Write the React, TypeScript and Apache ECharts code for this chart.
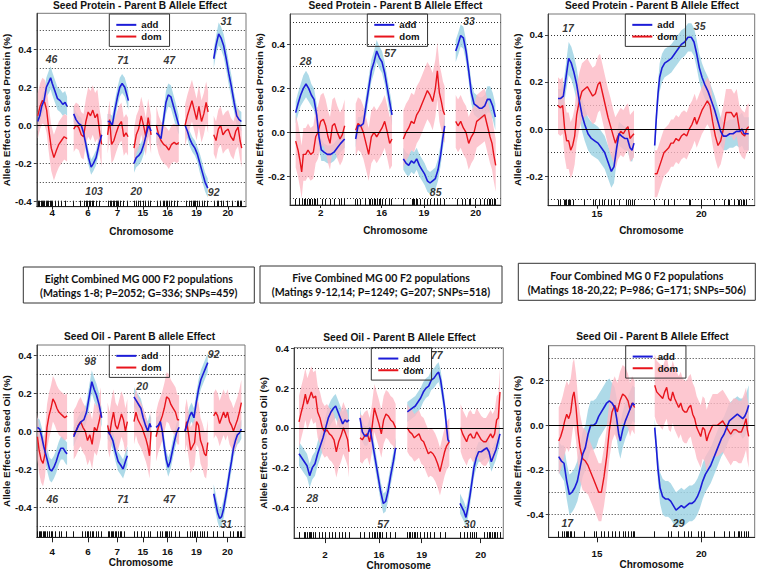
import { useEffect, useRef } from 'react';
import * as echarts from 'echarts';

type Pt = [number, number, number]; // [map position, effect, CI half-width]
type Note = [number, number, string];

// ---------------- DATA ----------------
// Panel 1: Seed Protein, MG 000
const P1_CHR = ['4', '6', '7', '15', '16', '19', '20'];
const P1_CHR_POS = [150, 258, 348, 425, 500, 588, 683];
const P1_RUG = [108, 112, 116, 120, 124, 127, 131, 134, 138, 143, 146, 150, 158, 167, 176, 188, 215, 235, 247, 252, 257, 262, 266, 270, 275, 282, 292, 320, 326, 330, 334, 339, 343, 347, 351, 356, 366, 377, 398, 404, 410, 416, 425, 432, 440, 447, 468, 478, 486, 491, 495, 500, 506, 512, 520, 530, 556, 565, 572, 577, 581, 585, 589, 596, 604, 612, 620, 642, 650, 655, 662, 668, 680, 695, 710, 715, 720, 725];
const P1_ADD: Pt[][] = [
  [[106, 0.02, 0.05], [112, 0.05, 0.05], [118, 0.1, 0.05], [125, 0.13, 0.05], [132, 0.2, 0.05], [140, 0.23, 0.06], [145, 0.25, 0.06], [150, 0.22, 0.06], [158, 0.18, 0.06], [166, 0.14, 0.06], [174, 0.13, 0.06], [182, 0.11, 0.06], [189, 0.12, 0.06], [195, 0.1, 0.05]],
  [[215, 0.06, 0.04], [222, 0.03, 0.04], [230, 0.01, 0.04], [238, 0.0, 0.04], [245, -0.04, 0.04], [252, -0.1, 0.04], [260, -0.17, 0.04], [268, -0.22, 0.04], [275, -0.2, 0.04], [283, -0.17, 0.04], [292, -0.1, 0.04], [300, -0.05, 0.04]],
  [[318, 0.02, 0.04], [325, 0.02, 0.04], [332, 0.0, 0.05], [340, 0.08, 0.05], [348, 0.15, 0.05], [355, 0.2, 0.05], [362, 0.22, 0.05], [370, 0.2, 0.05], [378, 0.15, 0.05], [381, 0.13, 0.05]],
  [[398, -0.2, 0.05], [405, -0.17, 0.05], [412, -0.16, 0.05], [420, -0.14, 0.05], [428, -0.1, 0.05], [435, -0.05, 0.05], [442, 0.0, 0.05], [450, -0.03, 0.05]],
  [[466, -0.04, 0.05], [472, -0.05, 0.05], [480, -0.07, 0.05], [487, 0.02, 0.05], [495, 0.12, 0.06], [502, 0.16, 0.06], [510, 0.15, 0.06], [518, 0.1, 0.06], [526, 0.05, 0.06], [534, 0.0, 0.05]],
  [[553, 0.0, 0.04], [560, -0.03, 0.04], [567, -0.07, 0.04], [575, -0.1, 0.04], [583, -0.12, 0.04], [590, -0.15, 0.04], [598, -0.2, 0.05], [606, -0.25, 0.05], [614, -0.3, 0.05], [622, -0.33, 0.05]],
  [[640, 0.35, 0.05], [647, 0.42, 0.05], [655, 0.48, 0.06], [662, 0.46, 0.06], [670, 0.42, 0.06], [678, 0.35, 0.06], [686, 0.27, 0.06], [694, 0.2, 0.06], [702, 0.12, 0.05], [710, 0.05, 0.05], [717, 0.03, 0.05], [724, 0.02, 0.05]],
];
const P1_DOM: Pt[][] = [
  [[106, 0.05, 0.12], [113, 0.1, 0.12], [120, 0.13, 0.12], [127, 0.12, 0.12], [133, 0.08, 0.12], [140, -0.03, 0.12], [147, -0.12, 0.12], [155, -0.17, 0.12], [163, -0.13, 0.12], [170, -0.1, 0.12], [178, -0.08, 0.12], [186, -0.06, 0.12], [195, -0.07, 0.12]],
  [[215, -0.02, 0.12], [222, 0.0, 0.12], [230, -0.01, 0.12], [238, -0.05, 0.12], [245, -0.06, 0.12], [252, 0.02, 0.12], [259, 0.07, 0.13], [266, 0.05, 0.13], [273, 0.08, 0.13], [280, 0.04, 0.13], [287, 0.06, 0.13], [294, -0.04, 0.12], [300, -0.1, 0.12]],
  [[318, -0.05, 0.1], [324, 0.03, 0.1], [330, -0.1, 0.1], [337, -0.08, 0.1], [344, -0.04, 0.1], [352, 0.0, 0.1], [360, 0.02, 0.1], [367, -0.06, 0.1], [374, -0.04, 0.1], [380, -0.06, 0.1]],
  [[398, -0.12, 0.1], [405, -0.05, 0.1], [412, -0.02, 0.1], [420, 0.05, 0.1], [427, 0.0, 0.1], [434, -0.06, 0.1], [441, 0.04, 0.1], [450, -0.05, 0.1]],
  [[466, 0.0, 0.1], [473, -0.05, 0.1], [480, -0.08, 0.1], [488, -0.1, 0.1], [496, -0.11, 0.1], [504, -0.13, 0.1], [512, -0.1, 0.1], [520, -0.09, 0.1], [528, -0.1, 0.1], [534, -0.09, 0.1]],
  [[553, 0.0, 0.11], [560, 0.05, 0.11], [567, 0.09, 0.11], [574, 0.13, 0.11], [581, 0.08, 0.11], [588, 0.03, 0.11], [595, 0.1, 0.11], [603, 0.02, 0.11], [610, 0.06, 0.11], [617, 0.12, 0.11], [623, 0.07, 0.11]],
  [[640, -0.05, 0.1], [647, -0.08, 0.1], [654, -0.02, 0.1], [661, 0.0, 0.1], [668, -0.05, 0.1], [676, -0.03, 0.1], [684, -0.02, 0.1], [692, -0.06, 0.1], [700, -0.08, 0.1], [707, -0.03, 0.1], [714, -0.01, 0.1], [720, -0.08, 0.1], [725, -0.12, 0.1]],
];
const P1_NOTES: Note[] = [[148, 0.347, '46'], [365, 0.344, '71'], [505, 0.344, '47'], [678, 0.55, '31'], [277, -0.344, '103'], [405, -0.344, '20'], [640, -0.35, '92']];
const P1_YLABELS = [-0.4, -0.2, 0, 0.2, 0.4];
const P1_GRIDLINES = [-0.4, -0.3, -0.2, -0.1, 0.1, 0.2, 0.3, 0.4, 0.5];

// Panel 2: Seed Protein, MG 00
const P2_CHR = ['2', '16', '19', '20'];
const P2_CHR_POS = [200, 383, 510, 665];
const P2_RUG = [125, 135, 145, 150, 155, 160, 165, 170, 175, 180, 185, 190, 205, 213, 230, 240, 255, 263, 272, 305, 310, 320, 335, 345, 350, 355, 360, 365, 370, 375, 380, 385, 393, 405, 413, 448, 475, 478, 482, 486, 490, 500, 510, 520, 530, 540, 550, 560, 572, 610, 625, 635, 645, 650, 665, 680, 690, 700, 705, 710, 715, 720, 725];
const P2_ADD: Pt[][] = [
  [[125, 0.09, 0.05], [132, 0.13, 0.05], [140, 0.17, 0.05], [148, 0.2, 0.06], [156, 0.22, 0.06], [164, 0.2, 0.06], [172, 0.17, 0.05], [180, 0.15, 0.05], [188, 0.08, 0.05], [195, -0.02, 0.05], [202, -0.08, 0.05], [210, -0.09, 0.04], [220, -0.1, 0.04], [230, -0.1, 0.04], [240, -0.09, 0.04], [250, -0.07, 0.04], [260, -0.05, 0.04], [272, -0.03, 0.04]],
  [[305, -0.03, 0.04], [312, 0.03, 0.04], [320, 0.03, 0.04], [328, 0.04, 0.04], [336, 0.12, 0.05], [344, 0.2, 0.05], [352, 0.28, 0.05], [360, 0.32, 0.05], [368, 0.37, 0.05], [376, 0.34, 0.05], [384, 0.32, 0.05], [392, 0.27, 0.05], [400, 0.2, 0.05], [408, 0.13, 0.05], [414, 0.08, 0.05]],
  [[448, -0.12, 0.05], [456, -0.14, 0.05], [464, -0.15, 0.05], [472, -0.13, 0.05], [480, -0.14, 0.05], [488, -0.12, 0.05], [496, -0.15, 0.05], [504, -0.17, 0.05], [512, -0.19, 0.05], [520, -0.22, 0.05], [528, -0.23, 0.05], [536, -0.22, 0.05], [544, -0.21, 0.05], [552, -0.17, 0.05], [560, -0.1, 0.05], [566, -0.03, 0.05], [572, 0.03, 0.05]],
  [[605, 0.37, 0.05], [612, 0.4, 0.05], [620, 0.44, 0.05], [628, 0.43, 0.05], [636, 0.37, 0.05], [644, 0.28, 0.05], [652, 0.18, 0.05], [660, 0.13, 0.05], [668, 0.12, 0.05], [676, 0.11, 0.05], [684, 0.11, 0.05], [692, 0.12, 0.05], [700, 0.15, 0.06], [708, 0.15, 0.06], [716, 0.12, 0.06], [724, 0.07, 0.06]],
];
const P2_DOM: Pt[][] = [
  [[125, -0.04, 0.12], [132, -0.08, 0.12], [138, -0.13, 0.12], [143, -0.18, 0.12], [148, -0.1, 0.12], [155, -0.1, 0.12], [162, -0.08, 0.12], [170, -0.1, 0.12], [178, -0.09, 0.12], [185, -0.02, 0.12], [192, 0.0, 0.12], [200, 0.05, 0.12], [208, 0.06, 0.12], [215, 0.03, 0.12], [222, -0.02, 0.12], [228, -0.05, 0.12], [235, 0.03, 0.12], [242, 0.04, 0.12], [250, 0.0, 0.12], [258, -0.03, 0.12], [265, -0.01, 0.12], [272, 0.03, 0.12]],
  [[305, 0.01, 0.12], [312, 0.04, 0.12], [320, 0.03, 0.12], [328, 0.0, 0.12], [336, -0.05, 0.12], [344, -0.1, 0.12], [352, -0.02, 0.12], [360, 0.0, 0.12], [368, -0.02, 0.12], [376, 0.0, 0.12], [384, 0.02, 0.12], [392, 0.05, 0.12], [400, 0.0, 0.12], [407, -0.05, 0.12], [414, -0.03, 0.12]],
  [[448, -0.03, 0.13], [456, 0.0, 0.13], [464, 0.02, 0.13], [472, 0.05, 0.13], [480, 0.04, 0.13], [488, 0.08, 0.13], [496, 0.1, 0.13], [504, 0.13, 0.13], [512, 0.16, 0.13], [520, 0.19, 0.13], [528, 0.17, 0.13], [536, 0.14, 0.13], [544, 0.2, 0.13], [550, 0.28, 0.13], [556, 0.18, 0.13], [562, 0.14, 0.13], [567, 0.1, 0.13], [572, 0.08, 0.13]],
  [[605, 0.05, 0.12], [612, 0.03, 0.12], [620, 0.05, 0.12], [628, 0.02, 0.12], [636, 0.0, 0.12], [644, -0.05, 0.12], [652, -0.02, 0.12], [660, 0.0, 0.12], [668, 0.05, 0.12], [676, 0.06, 0.12], [684, 0.07, 0.12], [692, 0.08, 0.12], [700, 0.03, 0.12], [708, -0.02, 0.12], [714, -0.05, 0.12], [719, -0.1, 0.12], [725, -0.15, 0.12]],
];
const P2_NOTES: Note[] = [[155, 0.324, '28'], [408, 0.359, '57'], [545, -0.27, '85'], [645, 0.507, '33']];
const P2_YLABELS = [-0.2, 0, 0.2, 0.4];
const P2_GRIDLINES = [-0.3, -0.2, -0.1, 0.1, 0.2, 0.3, 0.4, 0.5];

// Panel 3: Seed Protein, MG 0
const P3_CHR = ['15', '20'];
const P3_CHR_POS = [267, 580];
const P3_RUG = [150, 158, 168, 172, 176, 180, 184, 188, 195, 228, 255, 262, 275, 282, 290, 300, 310, 320, 335, 355, 362, 368, 374, 378, 440, 470, 480, 500, 545, 548, 580, 620, 650, 660, 665, 680, 690, 695, 700, 705, 710, 715];
const P3_ADD: Pt[][] = [
  [[150, 0.13, 0.04], [158, 0.13, 0.04], [166, 0.14, 0.05], [174, 0.22, 0.06], [182, 0.3, 0.07], [190, 0.28, 0.07], [198, 0.24, 0.07], [206, 0.19, 0.07], [214, 0.12, 0.07], [222, 0.06, 0.07], [230, 0.02, 0.07], [240, -0.02, 0.07], [250, -0.04, 0.07], [260, -0.05, 0.07], [270, -0.06, 0.07], [280, -0.08, 0.07], [290, -0.1, 0.07], [300, -0.14, 0.07], [310, -0.18, 0.07], [318, -0.16, 0.07], [326, -0.08, 0.06], [333, -0.02, 0.05], [341, -0.03, 0.05], [350, -0.04, 0.05], [358, -0.04, 0.05], [366, -0.08, 0.05], [372, -0.09, 0.05], [378, -0.06, 0.05]],
  [[440, -0.07, 0.04], [445, 0.05, 0.05], [450, 0.15, 0.05], [455, 0.22, 0.06], [462, 0.26, 0.06], [470, 0.28, 0.06], [480, 0.29, 0.06], [490, 0.3, 0.06], [500, 0.32, 0.06], [510, 0.34, 0.06], [520, 0.36, 0.06], [530, 0.37, 0.06], [540, 0.39, 0.06], [550, 0.39, 0.06], [558, 0.37, 0.06], [566, 0.32, 0.06], [574, 0.26, 0.06], [582, 0.22, 0.06], [590, 0.19, 0.06], [600, 0.16, 0.06], [610, 0.12, 0.06], [620, 0.08, 0.06], [630, 0.03, 0.06], [638, -0.01, 0.06], [646, -0.03, 0.06], [655, -0.03, 0.06], [665, -0.02, 0.06], [675, -0.02, 0.06], [685, -0.01, 0.06], [695, -0.01, 0.07], [702, 0.0, 0.07], [708, -0.02, 0.07], [715, -0.02, 0.07], [722, -0.02, 0.07]],
];
const P3_DOM: Pt[][] = [
  [[150, 0.1, 0.12], [157, 0.09, 0.12], [164, 0.1, 0.12], [170, 0.0, 0.12], [176, -0.05, 0.12], [182, -0.05, 0.12], [188, -0.09, 0.12], [194, -0.07, 0.12], [200, -0.03, 0.12], [206, 0.06, 0.12], [214, 0.12, 0.12], [222, 0.16, 0.12], [230, 0.17, 0.12], [238, 0.18, 0.12], [246, 0.16, 0.12], [254, 0.14, 0.12], [262, 0.15, 0.12], [270, 0.19, 0.12], [276, 0.2, 0.12], [284, 0.15, 0.12], [292, 0.1, 0.12], [300, 0.05, 0.12], [308, 0.01, 0.12], [316, -0.03, 0.11], [322, -0.06, 0.11], [330, -0.03, 0.1], [338, -0.01, 0.1], [346, -0.02, 0.1], [354, 0.0, 0.1], [360, 0.01, 0.1], [366, -0.04, 0.1], [372, -0.03, 0.1], [378, -0.02, 0.1]],
  [[440, -0.19, 0.1], [447, -0.19, 0.1], [454, -0.16, 0.1], [461, -0.13, 0.1], [468, -0.1, 0.1], [475, -0.09, 0.1], [482, -0.08, 0.1], [489, -0.06, 0.1], [496, -0.06, 0.1], [504, -0.04, 0.1], [512, -0.05, 0.1], [520, -0.03, 0.1], [528, -0.02, 0.1], [536, -0.03, 0.1], [544, 0.0, 0.1], [552, 0.02, 0.1], [560, 0.05, 0.1], [566, 0.02, 0.1], [574, 0.05, 0.1], [582, 0.08, 0.1], [590, 0.1, 0.1], [598, 0.12, 0.1], [606, 0.1, 0.1], [614, 0.03, 0.1], [622, -0.03, 0.1], [630, -0.07, 0.1], [638, -0.05, 0.1], [646, 0.0, 0.1], [654, 0.07, 0.1], [662, 0.07, 0.1], [670, 0.07, 0.1], [678, 0.05, 0.1], [686, 0.07, 0.1], [694, 0.0, 0.1], [702, -0.02, 0.1], [710, -0.03, 0.1], [716, 0.0, 0.1], [722, 0.01, 0.1]],
];
const P3_NOTES: Note[] = [[180, 0.428, '17'], [575, 0.438, '35']];
const P3_YLABELS = [-0.2, 0, 0.2, 0.4];
const P3_GRIDLINES = [-0.3, -0.2, -0.1, 0.1, 0.2, 0.3, 0.4];

// Panel 4: Seed Oil, MG 000
const P4_CHR = ['4', '6', '7', '15', '16', '19', '20'];
const P4_CHR_POS = [150, 258, 347, 425, 500, 588, 682];
const P4_RUG = [105, 110, 114, 118, 122, 126, 130, 135, 140, 146, 150, 158, 170, 178, 193, 215, 240, 250, 255, 260, 265, 270, 275, 282, 290, 300, 320, 324, 328, 332, 336, 340, 344, 350, 355, 360, 370, 400, 408, 420, 430, 440, 447, 468, 478, 485, 492, 496, 500, 505, 512, 522, 534, 560, 568, 575, 580, 585, 590, 598, 606, 612, 620, 640, 650, 670, 690, 700, 712, 716, 720, 725];
const P4_ADD: Pt[][] = [
  [[105, 0.02, 0.05], [112, 0.01, 0.05], [118, -0.03, 0.05], [124, -0.08, 0.05], [130, -0.12, 0.05], [136, -0.16, 0.06], [142, -0.2, 0.06], [148, -0.21, 0.06], [155, -0.19, 0.06], [162, -0.16, 0.06], [169, -0.12, 0.06], [176, -0.09, 0.06], [183, -0.09, 0.06], [190, -0.11, 0.06], [195, -0.12, 0.06]],
  [[215, -0.03, 0.05], [222, 0.0, 0.05], [230, 0.03, 0.05], [238, 0.05, 0.05], [246, 0.06, 0.05], [254, 0.1, 0.05], [262, 0.18, 0.06], [270, 0.26, 0.06], [277, 0.22, 0.06], [284, 0.19, 0.06], [292, 0.14, 0.06], [300, 0.07, 0.05]],
  [[318, 0.0, 0.04], [326, -0.02, 0.04], [334, -0.05, 0.05], [342, -0.11, 0.05], [350, -0.16, 0.05], [358, -0.18, 0.05], [365, -0.2, 0.05], [372, -0.16, 0.05], [378, -0.13, 0.05]],
  [[398, 0.18, 0.05], [405, 0.16, 0.05], [412, 0.14, 0.05], [419, 0.12, 0.05], [426, 0.07, 0.05], [433, 0.03, 0.05], [440, 0.0, 0.05], [446, 0.04, 0.05], [450, 0.02, 0.05]],
  [[465, 0.02, 0.05], [472, 0.03, 0.05], [478, 0.05, 0.05], [484, 0.0, 0.05], [490, -0.08, 0.05], [496, -0.15, 0.05], [502, -0.19, 0.05], [508, -0.16, 0.05], [514, -0.11, 0.05], [520, -0.06, 0.05], [527, -0.01, 0.05], [535, 0.02, 0.05]],
  [[553, 0.0, 0.05], [560, 0.04, 0.05], [567, 0.08, 0.05], [573, 0.1, 0.05], [580, 0.07, 0.05], [587, 0.15, 0.05], [594, 0.22, 0.05], [601, 0.27, 0.05], [608, 0.3, 0.05], [615, 0.33, 0.05], [622, 0.36, 0.05]],
  [[640, -0.33, 0.05], [646, -0.38, 0.05], [652, -0.43, 0.05], [658, -0.46, 0.05], [664, -0.45, 0.05], [670, -0.41, 0.05], [676, -0.35, 0.05], [682, -0.29, 0.05], [688, -0.22, 0.05], [694, -0.16, 0.05], [700, -0.09, 0.05], [706, -0.05, 0.05], [712, -0.02, 0.05], [718, -0.01, 0.05], [724, 0.01, 0.05]],
];
const P4_DOM: Pt[][] = [
  [[105, -0.03, 0.12], [110, -0.1, 0.12], [116, -0.15, 0.12], [122, -0.17, 0.12], [128, -0.12, 0.12], [134, 0.02, 0.12], [140, 0.08, 0.12], [146, 0.12, 0.12], [152, 0.17, 0.12], [158, 0.15, 0.12], [164, 0.12, 0.12], [170, 0.1, 0.12], [176, 0.09, 0.12], [182, 0.08, 0.12], [188, 0.07, 0.12], [195, 0.08, 0.12]],
  [[215, -0.02, 0.13], [222, 0.0, 0.13], [229, 0.03, 0.13], [236, 0.05, 0.13], [243, 0.02, 0.13], [250, 0.0, 0.13], [257, -0.05, 0.13], [264, -0.02, 0.13], [271, -0.07, 0.13], [278, 0.02, 0.13], [285, 0.0, 0.13], [292, 0.05, 0.13], [298, 0.1, 0.13]],
  [[318, 0.03, 0.12], [324, -0.02, 0.12], [330, 0.05, 0.12], [336, 0.1, 0.12], [342, 0.03, 0.12], [348, 0.01, 0.12], [354, 0.05, 0.12], [360, 0.09, 0.12], [366, 0.06, 0.12], [372, 0.0, 0.12], [378, 0.05, 0.12]],
  [[398, 0.05, 0.12], [404, 0.1, 0.12], [410, 0.06, 0.12], [416, 0.04, 0.12], [422, 0.02, 0.12], [428, -0.01, 0.12], [434, -0.04, 0.12], [440, -0.08, 0.12], [445, -0.13, 0.12], [450, 0.0, 0.12]],
  [[465, -0.03, 0.13], [472, 0.02, 0.13], [478, 0.05, 0.13], [484, 0.08, 0.13], [490, 0.12, 0.13], [497, 0.18, 0.13], [504, 0.17, 0.13], [510, 0.14, 0.13], [517, 0.12, 0.13], [524, 0.1, 0.13], [530, 0.06, 0.13], [535, 0.06, 0.13]],
  [[553, 0.0, 0.12], [558, 0.05, 0.12], [564, -0.02, 0.12], [570, -0.1, 0.12], [576, -0.08, 0.12], [582, -0.06, 0.12], [588, 0.05, 0.12], [594, 0.03, 0.12], [600, -0.05, 0.12], [606, -0.08, 0.12], [612, -0.12, 0.12], [617, -0.13, 0.12], [622, -0.06, 0.12]],
  [[640, 0.08, 0.12], [646, 0.1, 0.12], [652, 0.08, 0.12], [658, 0.04, 0.12], [664, 0.07, 0.12], [670, 0.1, 0.12], [676, 0.07, 0.12], [682, 0.1, 0.12], [688, 0.05, 0.12], [694, 0.03, 0.12], [700, 0.0, 0.12], [706, 0.03, 0.12], [712, 0.06, 0.12], [718, 0.1, 0.12], [724, 0.15, 0.12]],
];
const P4_NOTES: Note[] = [[265, 0.368, '98'], [423, 0.237, '20'], [640, 0.405, '92'], [150, -0.36, '46'], [365, -0.36, '71'], [505, -0.36, '47'], [678, -0.49, '31']];
const P4_YLABELS = [-0.4, -0.2, 0, 0.2, 0.4];
const P4_GRIDLINES = [-0.5, -0.4, -0.3, -0.2, -0.1, 0.1, 0.2, 0.3, 0.4];

// Panel 5: Seed Oil, MG 00
const P5_CHR = ['2', '16', '19', '20'];
const P5_CHR_POS = [213, 375, 503, 680];
const P5_RUG = [135, 150, 155, 160, 165, 168, 172, 178, 185, 195, 205, 215, 225, 235, 245, 255, 265, 275, 285, 320, 330, 345, 355, 360, 365, 370, 375, 380, 385, 398, 410, 425, 460, 465, 470, 475, 480, 485, 490, 498, 510, 520, 530, 540, 560, 575, 618, 630, 640, 650, 655, 660, 668, 690, 700, 705, 710, 715, 720, 725, 730, 738];
const P5_ADD: Pt[][] = [
  [[135, -0.13, 0.06], [143, -0.15, 0.06], [151, -0.17, 0.06], [159, -0.19, 0.06], [167, -0.24, 0.06], [175, -0.2, 0.06], [183, -0.18, 0.06], [191, -0.13, 0.06], [199, -0.09, 0.06], [207, -0.05, 0.06], [215, 0.0, 0.06], [223, 0.05, 0.06], [231, 0.08, 0.06], [239, 0.1, 0.06], [245, 0.11, 0.06], [252, 0.08, 0.06], [259, 0.05, 0.06], [266, 0.02, 0.06], [273, 0.04, 0.06], [279, 0.03, 0.06], [285, 0.04, 0.06]],
  [[318, 0.05, 0.05], [325, -0.02, 0.05], [332, -0.04, 0.05], [340, -0.04, 0.05], [348, 0.0, 0.05], [356, -0.08, 0.05], [364, -0.16, 0.05], [372, -0.24, 0.05], [380, -0.32, 0.05], [388, -0.38, 0.05], [395, -0.37, 0.05], [402, -0.32, 0.05], [410, -0.24, 0.05], [418, -0.17, 0.05], [425, -0.1, 0.05]],
  [[460, 0.08, 0.05], [468, 0.09, 0.05], [476, 0.1, 0.05], [484, 0.11, 0.05], [492, 0.13, 0.05], [500, 0.15, 0.05], [508, 0.18, 0.05], [516, 0.2, 0.05], [524, 0.21, 0.05], [532, 0.24, 0.05], [540, 0.25, 0.05], [548, 0.27, 0.05], [554, 0.28, 0.05], [560, 0.24, 0.05], [566, 0.17, 0.05], [572, 0.1, 0.05], [578, 0.0, 0.05], [582, -0.06, 0.05], [586, -0.07, 0.05]],
  [[618, -0.38, 0.05], [624, -0.4, 0.05], [630, -0.42, 0.05], [636, -0.45, 0.05], [642, -0.4, 0.05], [648, -0.34, 0.05], [654, -0.27, 0.05], [660, -0.2, 0.05], [667, -0.15, 0.05], [674, -0.12, 0.05], [682, -0.12, 0.05], [690, -0.11, 0.05], [698, -0.1, 0.05], [705, -0.12, 0.05], [712, -0.17, 0.05], [719, -0.14, 0.05], [726, -0.11, 0.05], [732, -0.07, 0.05], [738, -0.03, 0.05]],
];
const P5_DOM: Pt[][] = [
  [[135, 0.03, 0.13], [142, 0.08, 0.13], [148, 0.12, 0.13], [154, 0.17, 0.13], [160, 0.12, 0.13], [166, 0.15, 0.13], [172, 0.18, 0.13], [178, 0.15, 0.13], [185, 0.16, 0.13], [191, 0.08, 0.13], [198, 0.05, 0.13], [205, 0.0, 0.13], [212, -0.02, 0.13], [219, -0.01, 0.13], [226, -0.03, 0.13], [233, -0.04, 0.13], [240, -0.06, 0.13], [247, -0.12, 0.13], [254, -0.07, 0.13], [261, -0.04, 0.13], [268, 0.0, 0.13], [275, -0.03, 0.13], [281, -0.06, 0.13], [285, -0.12, 0.13]],
  [[318, -0.05, 0.12], [325, -0.06, 0.12], [332, -0.04, 0.12], [340, -0.03, 0.12], [347, -0.07, 0.12], [354, 0.0, 0.12], [361, 0.1, 0.12], [368, 0.06, 0.12], [375, 0.02, 0.12], [382, -0.03, 0.12], [389, 0.04, 0.12], [396, 0.07, 0.12], [403, 0.06, 0.12], [410, 0.04, 0.12], [417, 0.03, 0.12], [425, 0.0, 0.12]],
  [[460, 0.0, 0.12], [467, -0.02, 0.12], [474, -0.03, 0.12], [481, -0.05, 0.12], [488, -0.04, 0.12], [495, -0.03, 0.12], [502, -0.06, 0.12], [509, -0.07, 0.12], [516, -0.1, 0.12], [523, -0.13, 0.12], [530, -0.12, 0.12], [537, -0.13, 0.12], [544, -0.15, 0.12], [551, -0.18, 0.12], [558, -0.22, 0.12], [565, -0.17, 0.12], [572, -0.12, 0.12], [578, -0.09, 0.12], [586, -0.07, 0.12]],
  [[620, 0.0, 0.12], [626, -0.03, 0.12], [632, -0.05, 0.12], [638, -0.07, 0.12], [644, -0.04, 0.12], [650, -0.03, 0.12], [656, -0.05, 0.12], [662, -0.05, 0.12], [668, -0.02, 0.12], [675, -0.04, 0.12], [682, -0.06, 0.12], [689, -0.07, 0.12], [696, -0.07, 0.12], [703, -0.05, 0.12], [710, -0.03, 0.12], [716, -0.05, 0.12], [722, -0.03, 0.12], [728, 0.04, 0.12], [733, 0.05, 0.12], [738, 0.18, 0.12]],
];
const P5_NOTES: Note[] = [[175, -0.353, '28'], [387, -0.482, '57'], [548, 0.365, '77'], [647, -0.482, '30']];
const P5_YLABELS = [-0.4, -0.2, 0, 0.2, 0.4];
const P5_GRIDLINES = [-0.5, -0.4, -0.3, -0.2, -0.1, 0.1, 0.2, 0.3, 0.4];

// Panel 6: Seed Oil, MG 0
const P6_CHR = ['15', '20'];
const P6_CHR_POS = [267, 580];
const P6_RUG = [152, 162, 170, 174, 178, 182, 186, 190, 200, 228, 258, 265, 280, 290, 300, 312, 322, 335, 345, 352, 362, 370, 376, 380, 440, 480, 490, 510, 530, 540, 550, 570, 580, 590, 620, 650, 665, 680, 690, 695, 700, 708, 715, 720];
const P6_ADD: Pt[][] = [
  [[152, -0.14, 0.07], [160, -0.16, 0.07], [168, -0.17, 0.08], [176, -0.25, 0.08], [184, -0.31, 0.09], [192, -0.3, 0.09], [200, -0.28, 0.09], [208, -0.25, 0.09], [216, -0.19, 0.1], [224, -0.13, 0.1], [232, -0.1, 0.1], [240, -0.04, 0.11], [248, 0.0, 0.11], [256, 0.0, 0.11], [264, 0.01, 0.11], [272, 0.04, 0.1], [280, 0.06, 0.1], [288, 0.08, 0.1], [296, 0.1, 0.1], [304, 0.11, 0.1], [312, 0.1, 0.09], [320, 0.08, 0.09], [326, 0.03, 0.09], [332, -0.04, 0.08], [337, -0.07, 0.08], [344, -0.02, 0.08], [352, 0.02, 0.08], [360, 0.05, 0.08], [368, 0.08, 0.08], [374, 0.1, 0.08], [380, 0.09, 0.08]],
  [[440, -0.01, 0.04], [445, -0.1, 0.05], [450, -0.2, 0.06], [456, -0.28, 0.07], [464, -0.32, 0.08], [472, -0.33, 0.08], [480, -0.33, 0.08], [488, -0.34, 0.08], [496, -0.36, 0.08], [504, -0.38, 0.08], [512, -0.37, 0.08], [520, -0.36, 0.08], [528, -0.37, 0.08], [536, -0.36, 0.08], [544, -0.35, 0.08], [552, -0.35, 0.08], [560, -0.34, 0.08], [568, -0.32, 0.08], [576, -0.29, 0.08], [584, -0.25, 0.08], [592, -0.22, 0.08], [600, -0.2, 0.08], [608, -0.18, 0.08], [616, -0.15, 0.08], [624, -0.12, 0.08], [632, -0.09, 0.08], [640, -0.06, 0.08], [648, -0.04, 0.08], [656, -0.01, 0.08], [664, 0.02, 0.08], [672, 0.03, 0.08], [680, 0.04, 0.08], [688, 0.05, 0.08], [696, 0.04, 0.08], [704, 0.03, 0.09], [710, 0.04, 0.09], [716, 0.06, 0.09], [722, 0.09, 0.09]],
];
const P6_DOM: Pt[][] = [
  [[152, -0.07, 0.15], [158, -0.05, 0.15], [164, -0.02, 0.15], [170, 0.02, 0.15], [176, 0.05, 0.15], [182, 0.03, 0.15], [188, 0.06, 0.15], [194, 0.13, 0.15], [198, 0.15, 0.15], [204, 0.08, 0.15], [210, -0.03, 0.15], [216, -0.1, 0.15], [224, -0.15, 0.14], [232, -0.16, 0.14], [240, -0.18, 0.13], [248, -0.21, 0.13], [256, -0.24, 0.13], [264, -0.27, 0.13], [272, -0.3, 0.13], [280, -0.3, 0.13], [288, -0.23, 0.13], [296, -0.14, 0.13], [304, -0.02, 0.13], [312, 0.06, 0.13], [320, 0.09, 0.13], [328, 0.06, 0.13], [336, 0.11, 0.13], [344, 0.14, 0.13], [352, 0.13, 0.13], [360, 0.11, 0.12], [366, 0.07, 0.12], [372, 0.1, 0.12], [380, 0.08, 0.12]],
  [[440, 0.18, 0.14], [446, 0.15, 0.14], [452, 0.14, 0.14], [458, 0.13, 0.14], [464, 0.12, 0.14], [470, 0.15, 0.14], [476, 0.17, 0.14], [482, 0.12, 0.14], [488, 0.11, 0.14], [494, 0.15, 0.14], [500, 0.12, 0.14], [506, 0.1, 0.14], [512, 0.08, 0.14], [518, 0.1, 0.14], [524, 0.07, 0.14], [530, 0.06, 0.14], [536, 0.06, 0.14], [542, 0.08, 0.14], [548, 0.09, 0.14], [554, 0.05, 0.14], [560, 0.03, 0.14], [566, -0.01, 0.14], [572, -0.03, 0.14], [578, -0.05, 0.14], [584, -0.01, 0.14], [590, -0.02, 0.14], [596, -0.07, 0.14], [602, -0.04, 0.14], [608, -0.02, 0.14], [614, 0.0, 0.14], [620, 0.0, 0.14], [628, 0.0, 0.14], [636, 0.01, 0.14], [644, 0.02, 0.14], [652, 0.0, 0.14], [660, -0.02, 0.14], [668, -0.04, 0.14], [676, -0.02, 0.14], [684, -0.02, 0.14], [692, -0.03, 0.14], [700, -0.03, 0.14], [708, 0.0, 0.14], [714, 0.03, 0.14], [718, -0.02, 0.14], [722, -0.05, 0.14]],
];
const P6_NOTES: Note[] = [[178, -0.44, '17'], [512, -0.44, '29']];
const P6_YLABELS = [-0.4, -0.2, 0, 0.2];
const P6_GRIDLINES = [-0.4, -0.3, -0.2, -0.1, 0.1, 0.2, 0.3];

const TITLES = [
  'Seed Protein - Parent B Allele Effect', 'Seed Protein - Parent B Allele Effect', 'Seed Protein - Parent B Allele Effect',
  'Seed Oil - Parent B allele Effect', 'Seed Oil - Parent B Allele Effect', 'Seed Oil - Parent B Allele Effect',
];
const Y_NAMES = [
  'Allele Effect on Seed Protein (%)', 'Allele Effect on Seed Protein (%)', 'Allele Effect on Seed Protein (%)',
  'Allele Effect on Seed Oil (%)', 'Allele Effect on Seed Oil (%)', 'Allele Effect on Seed Oil (%)',
];
const X_NAME = 'Chromosome';
const SERIES_NAMES = ['add', 'dom'];
const BOX_LINES = [
  ['Eight Combined MG 000 F2 populations', '(Matings 1-8; P=2052; G=336; SNPs=459)'],
  ['Five Combined MG 00 F2 populations', '(Matings 9-12,14; P=1249; G=207; SNPs=518)'],
  ['Four Combined MG 0 F2 populations', '(Matings 18-20,22; P=986; G=171; SNPs=506)'],
];

// ---------------- LAYOUT / STYLE ----------------
const LAYOUT = [
  { left: 34.3, top: 13.3, w: 211.7, h: 193.4, xMin: 103, xMax: 738, yMin: -0.428, yMax: 0.589, titleX: 140, titleY: 0, yGap: 21, labMargin: 1, tickLen: 3, legX: 109.3, legY: 14 },
  { left: 290, top: 14, w: 210.7, h: 191, xMin: 108, xMax: 740, yMin: -0.33, yMax: 0.538, titleX: 395.5, titleY: 0, yGap: 23.5, labMargin: 2.5, tickLen: 3, legX: 367.3, legY: 14 },
  { left: 548, top: 14, w: 206.7, h: 191.7, xMin: 120, xMax: 740, yMin: -0.326, yMax: 0.489, titleX: 652, titleY: 0, yGap: 25, labMargin: 2.5, tickLen: 3, legX: 625.3, legY: 14 },
  { left: 34.3, top: 345, w: 210.7, h: 192.3, xMin: 103, xMax: 735, yMin: -0.559, yMax: 0.453, titleX: 139.5, titleY: 331, yGap: 22, labMargin: 9.5, tickLen: 5, legX: 109.3, legY: 345 },
  { left: 294, top: 347.7, w: 209.3, h: 190.6, xMin: 120, xMax: 748, yMin: -0.554, yMax: 0.403, titleX: 399.5, titleY: 332, yGap: 25, labMargin: 11, tickLen: 5, legX: 371.3, legY: 347.7 },
  { left: 548.7, top: 345.7, w: 206, h: 191.6, xMin: 122, xMax: 740, yMin: -0.502, yMax: 0.357, titleX: 652.5, titleY: 331, yGap: 25, labMargin: 11, tickLen: 5, legX: 625.7, legY: 345.7 },
];
const BOX_LAYOUT = [
  { x: 23.3, y: 267, w: 231, h: 36 },
  { x: 260, y: 266, w: 242, h: 37 },
  { x: 518.3, y: 263.3, w: 237, h: 37 },
];

const PANEL_DATA = [
  { chr: P1_CHR, chrPos: P1_CHR_POS, rug: P1_RUG, add: P1_ADD, dom: P1_DOM, notes: P1_NOTES, yLabels: P1_YLABELS, grid: P1_GRIDLINES },
  { chr: P2_CHR, chrPos: P2_CHR_POS, rug: P2_RUG, add: P2_ADD, dom: P2_DOM, notes: P2_NOTES, yLabels: P2_YLABELS, grid: P2_GRIDLINES },
  { chr: P3_CHR, chrPos: P3_CHR_POS, rug: P3_RUG, add: P3_ADD, dom: P3_DOM, notes: P3_NOTES, yLabels: P3_YLABELS, grid: P3_GRIDLINES },
  { chr: P4_CHR, chrPos: P4_CHR_POS, rug: P4_RUG, add: P4_ADD, dom: P4_DOM, notes: P4_NOTES, yLabels: P4_YLABELS, grid: P4_GRIDLINES },
  { chr: P5_CHR, chrPos: P5_CHR_POS, rug: P5_RUG, add: P5_ADD, dom: P5_DOM, notes: P5_NOTES, yLabels: P5_YLABELS, grid: P5_GRIDLINES },
  { chr: P6_CHR, chrPos: P6_CHR_POS, rug: P6_RUG, add: P6_ADD, dom: P6_DOM, notes: P6_NOTES, yLabels: P6_YLABELS, grid: P6_GRIDLINES },
];

const FONT = "'Liberation Sans', Arial, Helvetica, sans-serif";
const BOX_FONT = "Lato, 'Open Sans', sans-serif";
const ADD_LINE = '#1c1cd8';
const DOM_LINE = '#e8141c';
const ADD_BAND = 'rgba(160,212,228,0.85)';
const DOM_BAND = 'rgba(252,185,196,0.8)';
const TXT = '#111';

function buildOption() {
  const grid: any[] = [];
  const xAxis: any[] = [];
  const yAxis: any[] = [];
  const series: any[] = [];
  const title: any[] = [];
  const legend: any[] = [];

  PANEL_DATA.forEach((d, i) => {
    const L = LAYOUT[i];
    const xi = 2 * i;
    grid.push({ left: L.left, top: L.top, width: L.w, height: L.h, show: true, borderColor: '#777', borderWidth: 1, backgroundColor: 'rgba(0,0,0,0)' });

    // rug axis (SNP marker positions)
    xAxis.push({
      type: 'value', gridIndex: i, min: L.xMin, max: L.xMax, position: 'bottom',
      axisLine: { show: true, onZero: false, lineStyle: { color: '#222', width: 1 } },
      axisTick: { show: true, inside: true, length: 6, customValues: d.rug, lineStyle: { color: '#111', width: 1 } },
      axisLabel: { show: false }, splitLine: { show: false },
    });
    // chromosome label axis
    xAxis.push({
      type: 'value', gridIndex: i, min: L.xMin, max: L.xMax, position: 'bottom',
      axisLine: { show: false, onZero: false },
      axisTick: { show: true, length: L.tickLen, customValues: d.chrPos, lineStyle: { color: '#222', width: 1 } },
      axisLabel: {
        show: true, customValues: d.chrPos, margin: L.labMargin,
        formatter: (v: number) => d.chr[d.chrPos.indexOf(v)] ?? '',
        fontSize: 9.8, fontWeight: 'bold', color: TXT, fontFamily: FONT,
      },
      splitLine: { show: false },
      name: X_NAME, nameLocation: 'middle', nameGap: 20,
      nameTextStyle: { fontSize: 10, fontWeight: 'bold', color: TXT, fontFamily: FONT },
    });
    yAxis.push({
      type: 'value', gridIndex: i, min: L.yMin, max: L.yMax,
      axisLine: { show: true, onZero: false, lineStyle: { color: '#444', width: 1 } },
      axisTick: { show: true, length: 3, customValues: d.yLabels, lineStyle: { color: '#444' } },
      axisLabel: {
        show: true, customValues: d.yLabels, margin: 5,
        formatter: (v: number) => v.toFixed(1),
        fontSize: 9.8, fontWeight: 'bold', color: TXT, fontFamily: FONT,
      },
      splitLine: { show: false },
      name: Y_NAMES[i], nameLocation: 'middle', nameGap: L.yGap,
      nameTextStyle: { fontSize: 9.9, fontWeight: 'bold', color: TXT, fontFamily: FONT },
    });

    // dotted grid lines
    series.push({
      type: 'line', name: 'grid' + i, xAxisIndex: xi, yAxisIndex: i, data: [[L.xMin, 0]],
      symbol: 'none', lineStyle: { opacity: 0 }, silent: true, z: 1,
      markLine: {
        silent: true, symbol: 'none', z: 1, animation: false, label: { show: false },
        lineStyle: { color: '#333', type: [1, 2], width: 1 },
        data: d.grid.map((v) => ({ yAxis: v })),
      },
    });

    // confidence bands
    const bands: [Pt[][], string][] = [[d.add, ADD_BAND], [d.dom, DOM_BAND]];
    bands.forEach(([segs, col], bi) => {
      series.push({
        type: 'custom', name: 'band' + i + '_' + bi, xAxisIndex: xi, yAxisIndex: i, z: 2, silent: true, clip: true,
        data: segs.map((s) => [s[0][0], s[0][1]]),
        encode: { x: 0, y: 1 },
        renderItem: (params: any, api: any) => {
          const seg = segs[params.dataIndex];
          const upper = seg.map((p) => api.coord([p[0], p[1] + p[2]]));
          const lower = seg.map((p) => api.coord([p[0], p[1] - p[2]])).reverse();
          return { type: 'polygon', shape: { points: upper.concat(lower) }, style: { fill: col, stroke: 'none' } };
        },
      });
    });

    // lines
    d.dom.forEach((seg) => series.push({
      type: 'line', name: SERIES_NAMES[1], xAxisIndex: xi, yAxisIndex: i, z: 3, silent: true,
      data: seg.map((p) => [p[0], p[1]]), symbol: 'none', showSymbol: false,
      lineStyle: { color: DOM_LINE, width: 1.4 }, itemStyle: { color: DOM_LINE },
    }));
    d.add.forEach((seg) => series.push({
      type: 'line', name: SERIES_NAMES[0], xAxisIndex: xi, yAxisIndex: i, z: 3, silent: true,
      data: seg.map((p) => [p[0], p[1]]), symbol: 'none', showSymbol: false,
      lineStyle: { color: ADD_LINE, width: 1.6 }, itemStyle: { color: ADD_LINE },
    }));

    // zero line
    series.push({
      type: 'line', name: 'zero' + i, xAxisIndex: xi, yAxisIndex: i, data: [[L.xMin, 0]],
      symbol: 'none', lineStyle: { opacity: 0 }, silent: true, z: 4,
      markLine: {
        silent: true, symbol: 'none', animation: false, label: { show: false },
        lineStyle: { color: '#000', type: 'solid', width: 1.2 },
        data: [{ yAxis: 0 }],
      },
    });

    // marker-count annotations
    series.push({
      type: 'scatter', name: 'notes' + i, xAxisIndex: xi, yAxisIndex: i, z: 6, silent: true,
      symbolSize: 1, itemStyle: { color: 'rgba(0,0,0,0)' },
      data: d.notes.map((n) => ({ name: n[2], value: [n[0], n[1]] })),
      label: { show: true, position: 'inside', formatter: '{b}', fontSize: 10.5, fontWeight: 'bold', fontStyle: 'italic', color: '#000', fontFamily: FONT },
    });

    title.push({
      text: TITLES[i], left: L.titleX, top: L.titleY, textAlign: 'center', padding: 0,
      textStyle: { fontSize: 10.2, fontWeight: 'bold', color: TXT, fontFamily: FONT },
    });

    legend.push({
      orient: 'vertical', left: L.legX, top: L.legY, data: SERIES_NAMES, icon: 'rect',
      itemWidth: 20, itemHeight: 2, itemGap: 0, padding: [5, 8, 4, 7],
      borderColor: '#333', borderWidth: 1, backgroundColor: 'rgba(0,0,0,0)', selectedMode: false,
      textStyle: { fontSize: 9.6, fontWeight: 'bold', color: TXT, fontFamily: FONT, lineHeight: 11.7 },
    });
  });

  const graphic: any[] = [];
  BOX_LAYOUT.forEach((b, k) => {
    graphic.push({
      type: 'rect', x: b.x, y: b.y, shape: { x: 0, y: 0, width: b.w, height: b.h },
      style: { fill: '#fff', stroke: '#333', lineWidth: 1 }, silent: true,
    });
    BOX_LINES[k].forEach((t, li) => {
      graphic.push({
        type: 'text', x: b.x + b.w / 2, y: b.y + 11.5 + li * 14, scaleX: 0.91, silent: true,
        style: {
          text: t, fill: '#111', fontSize: 11.6, fontWeight: 'bold', fontFamily: BOX_FONT,
          align: 'center', verticalAlign: 'middle', textAlign: 'center', textVerticalAlign: 'middle',
        },
      });
    });
  });

  return {
    animation: false, backgroundColor: '#fff', textStyle: { fontFamily: FONT },
    grid, xAxis, yAxis, series, title, legend, graphic,
  };
}

export default function App() {
  const ref = useRef<HTMLDivElement>(null);
  useEffect(() => {
    if (!ref.current) return;
    const chart = echarts.init(ref.current, undefined, { renderer: 'svg' });
    chart.setOption(buildOption() as any);
    return () => chart.dispose();
  }, []);
  return <div ref={ref} style={{ position: 'absolute', left: 0, top: 0, width: 762, height: 571, background: '#fff' }} />;
}
